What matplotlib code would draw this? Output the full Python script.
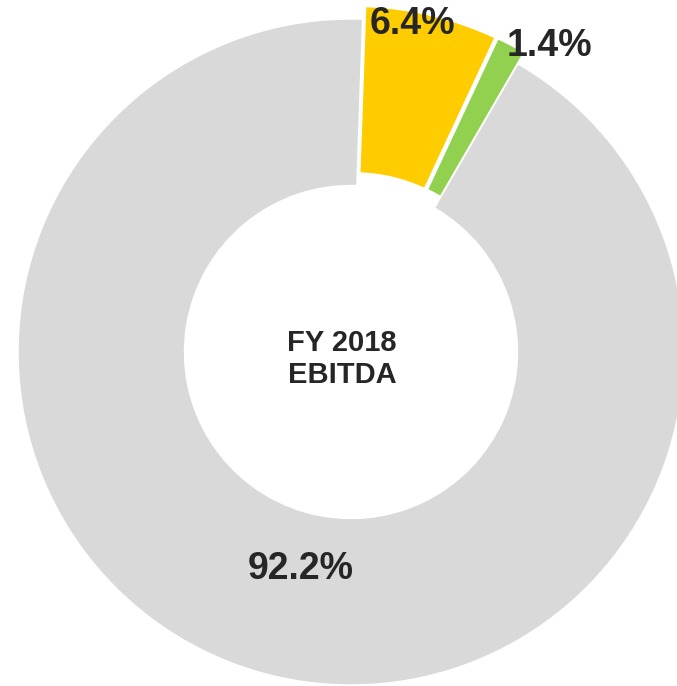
import matplotlib.pyplot as plt

# EBITDA split by segment
segments = ['Segment A', 'Segment B', 'Other']
shares = [6.4, 1.4, 92.2]
colors = ['#FFCC00', '#92D050', '#D9D9D9']
explode = [0.039, 0.039, 0.0]

plt.rcParams["font.family"] = ["Liberation Sans", "DejaVu Sans"]

fig = plt.figure(figsize=(6.77, 6.86), dpi=100)
ax = fig.add_axes([0, 0, 1, 1])

R = 333.0  # outer radius in pixels
cx, cy = 351.0, 352.0
ax.pie(shares, colors=colors, explode=explode, startangle=88, counterclock=False,
       radius=1.0, wedgeprops=dict(width=0.5, edgecolor='white', linewidth=1.0))

ax.set_xlim(-cx / R, (677 - cx) / R)
ax.set_ylim(-(686 - cy) / R, cy / R)
ax.set_aspect('equal')
ax.axis('off')

# value labels
label_pos = [(0.185, 0.985), (0.597, 0.919), (-0.150, -0.652)]
for v, (x, y) in zip(shares, label_pos):
    ax.text(x, y, f"{v:.1f}%", ha='center', va='center', fontsize=27,
            fontweight='bold', color='#262626')

ax.text(-0.027, -0.02, "FY 2018\nEBITDA", ha='center', va='center', fontsize=21,
        fontweight='bold', color='#262626', linespacing=1.17)

fig.savefig("out.png", dpi=100)
